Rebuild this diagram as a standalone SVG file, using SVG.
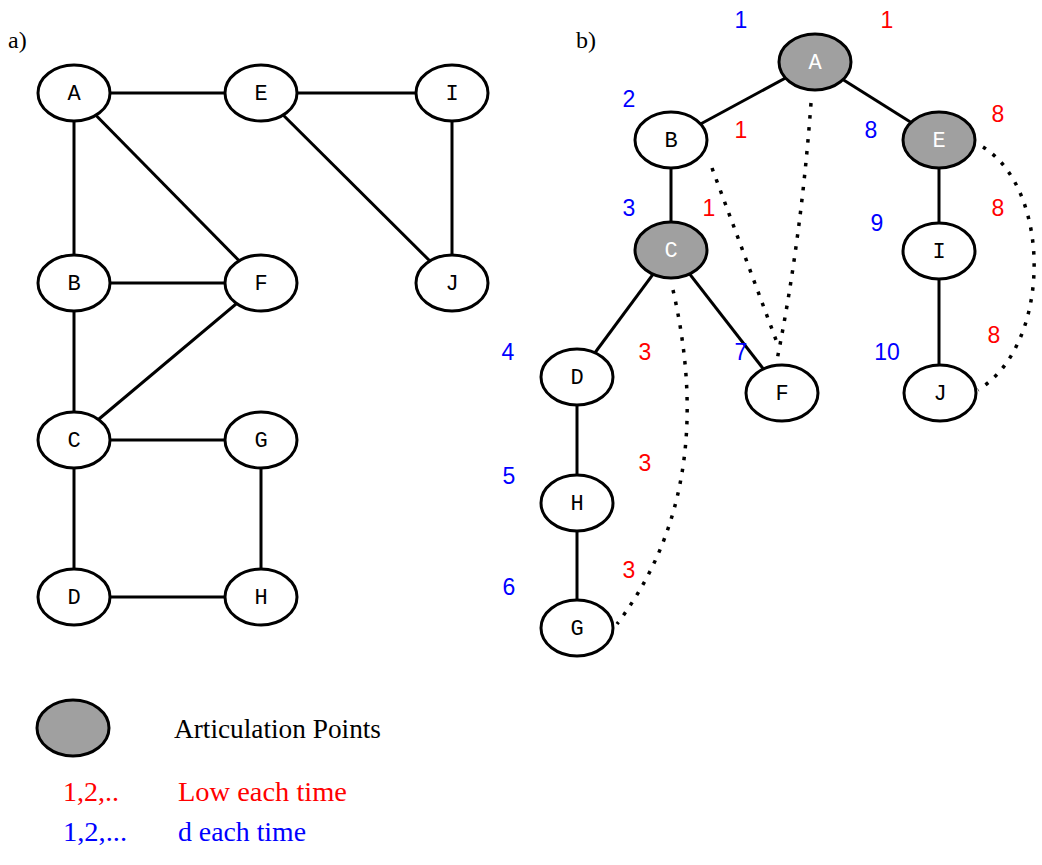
<svg xmlns="http://www.w3.org/2000/svg" width="1042" height="865" viewBox="0 0 1042 865">
  <style>
    .edge { stroke: #000; stroke-width: 3; fill: none; }
    .back { stroke: #000; stroke-width: 3.5; fill: none; stroke-dasharray: 3.5 8.5; }
    .node ellipse { fill: #fff; stroke: #000; stroke-width: 3; }
    .node.art ellipse { fill: #a0a0a0; }
    .node text { font-family: "Liberation Mono", "Courier New", monospace; font-size: 22px; text-anchor: middle; fill: #000; }
    .node.art text { fill: #fff; }
    .d { font-family: "Liberation Sans", Arial, sans-serif; font-size: 23px; fill: #0000ff; text-anchor: middle; }
    .low { font-family: "Liberation Sans", Arial, sans-serif; font-size: 23px; fill: #ff0000; text-anchor: middle; }
    .caption { font-family: "Liberation Serif", "Times New Roman", serif; font-size: 24px; fill: #000; }
    .legend { font-family: "Liberation Serif", "Times New Roman", serif; font-size: 27px; }
  </style>
  <rect width="1042" height="865" fill="#fff"/>

  <text class="caption" x="8" y="48">a)</text>
  <text class="caption" x="576" y="48">b)</text>

  <!-- a) original graph edges -->
  <g id="edges-a">
    <line class="edge" x1="74" y1="93" x2="261" y2="93"/>
    <line class="edge" x1="261" y1="93" x2="452" y2="93"/>
    <line class="edge" x1="74" y1="93" x2="74" y2="283"/>
    <line class="edge" x1="74" y1="93" x2="261" y2="283"/>
    <line class="edge" x1="261" y1="93" x2="452" y2="283"/>
    <line class="edge" x1="452" y1="93" x2="452" y2="283"/>
    <line class="edge" x1="74" y1="283" x2="261" y2="283"/>
    <line class="edge" x1="74" y1="283" x2="74" y2="440"/>
    <line class="edge" x1="261" y1="283" x2="74" y2="440"/>
    <line class="edge" x1="74" y1="440" x2="261" y2="440"/>
    <line class="edge" x1="74" y1="440" x2="74" y2="597"/>
    <line class="edge" x1="261" y1="440" x2="261" y2="597"/>
    <line class="edge" x1="74" y1="597" x2="261" y2="597"/>
  </g>

  <!-- b) DFS tree edges (solid) and back edges (dotted) -->
  <g id="edges-b">
    <line class="edge" x1="815" y1="62" x2="671" y2="140"/>
    <line class="edge" x1="815" y1="62" x2="939" y2="140"/>
    <line class="edge" x1="671" y1="140" x2="671" y2="250"/>
    <line class="edge" x1="939" y1="140" x2="939" y2="251"/>
    <line class="edge" x1="939" y1="251" x2="939" y2="393"/>
    <line class="edge" x1="671" y1="250" x2="577" y2="377"/>
    <line class="edge" x1="671" y1="250" x2="782" y2="393"/>
    <line class="edge" x1="577" y1="377" x2="577" y2="503"/>
    <line class="edge" x1="577" y1="503" x2="577" y2="628"/>
    <path class="back" d="M811,103 Q801,240 777,360"/>
    <path class="back" d="M712,168 L776,340"/>
    <path class="back" d="M673,290 C698,400 696,520 617,624"/>
    <path class="back" d="M983,147 C1052,190 1052,345 978,390"/>
  </g>

  <!-- a) nodes -->
  <g id="a-A" class="node"><ellipse cx="74" cy="93" rx="36" ry="28"/><text x="74" y="100">A</text></g>
  <g id="a-E" class="node"><ellipse cx="261" cy="93" rx="36" ry="28"/><text x="261" y="100">E</text></g>
  <g id="a-I" class="node"><ellipse cx="452" cy="93" rx="36" ry="28"/><text x="452" y="100">I</text></g>
  <g id="a-B" class="node"><ellipse cx="74" cy="283" rx="36" ry="28"/><text x="74" y="290">B</text></g>
  <g id="a-F" class="node"><ellipse cx="261" cy="283" rx="36" ry="28"/><text x="261" y="290">F</text></g>
  <g id="a-J" class="node"><ellipse cx="452" cy="283" rx="36" ry="28"/><text x="452" y="290">J</text></g>
  <g id="a-C" class="node"><ellipse cx="74" cy="440" rx="36" ry="28"/><text x="74" y="447">C</text></g>
  <g id="a-G" class="node"><ellipse cx="261" cy="440" rx="36" ry="28"/><text x="261" y="447">G</text></g>
  <g id="a-D" class="node"><ellipse cx="74" cy="597" rx="36" ry="28"/><text x="74" y="604">D</text></g>
  <g id="a-H" class="node"><ellipse cx="261" cy="597" rx="36" ry="28"/><text x="261" y="604">H</text></g>

  <!-- b) nodes -->
  <g id="b-A" class="node art"><ellipse cx="815" cy="62" rx="36" ry="28"/><text x="815" y="69">A</text></g>
  <g id="b-B" class="node"><ellipse cx="671" cy="140" rx="36" ry="28"/><text x="671" y="147">B</text></g>
  <g id="b-E" class="node art"><ellipse cx="939" cy="140" rx="36" ry="28"/><text x="939" y="147">E</text></g>
  <g id="b-C" class="node art"><ellipse cx="671" cy="250" rx="36" ry="28"/><text x="671" y="257">C</text></g>
  <g id="b-I" class="node"><ellipse cx="939" cy="251" rx="36" ry="28"/><text x="939" y="258">I</text></g>
  <g id="b-D" class="node"><ellipse cx="577" cy="377" rx="36" ry="28"/><text x="577" y="384">D</text></g>
  <g id="b-F" class="node"><ellipse cx="782" cy="393" rx="36" ry="28"/><text x="782" y="400">F</text></g>
  <g id="b-J" class="node"><ellipse cx="940" cy="393" rx="36" ry="28"/><text x="940" y="400">J</text></g>
  <g id="b-H" class="node"><ellipse cx="577" cy="503" rx="36" ry="28"/><text x="577" y="510">H</text></g>
  <g id="b-G" class="node"><ellipse cx="577" cy="628" rx="36" ry="28"/><text x="577" y="635">G</text></g>

  <!-- discovery numbers d -->
  <g id="d-values">
    <text class="d" x="741" y="28">1</text>
    <text class="d" x="629" y="107">2</text>
    <text class="d" x="629" y="216">3</text>
    <text class="d" x="871" y="138">8</text>
    <text class="d" x="877" y="231">9</text>
    <text class="d" x="508" y="360">4</text>
    <text class="d" x="741" y="360">7</text>
    <text class="d" x="887" y="360">10</text>
    <text class="d" x="509" y="484">5</text>
    <text class="d" x="509" y="595">6</text>
  </g>

  <!-- low values -->
  <g id="low-values">
    <text class="low" x="887" y="28">1</text>
    <text class="low" x="741" y="138">1</text>
    <text class="low" x="709" y="216">1</text>
    <text class="low" x="998" y="122">8</text>
    <text class="low" x="998" y="216">8</text>
    <text class="low" x="645" y="360">3</text>
    <text class="low" x="994" y="343">8</text>
    <text class="low" x="645" y="471">3</text>
    <text class="low" x="629" y="578">3</text>
  </g>

  <!-- legend -->
  <g id="legend">
    <g id="legend-art" class="node art"><ellipse cx="73" cy="728" rx="36" ry="28"/></g>
    <text class="legend" x="174" y="738" fill="#000" textLength="207" lengthAdjust="spacingAndGlyphs">Articulation Points</text>
    <text class="legend" x="63" y="801" fill="#ff0000" textLength="56" lengthAdjust="spacingAndGlyphs">1,2,..</text>
    <text class="legend" x="178" y="801" fill="#ff0000" textLength="169" lengthAdjust="spacingAndGlyphs">Low each time</text>
    <text class="legend" x="63" y="841" fill="#0000ff" textLength="64" lengthAdjust="spacingAndGlyphs">1,2,...</text>
    <text class="legend" x="178" y="841" fill="#0000ff" textLength="128" lengthAdjust="spacingAndGlyphs">d each time</text>
  </g>
</svg>
